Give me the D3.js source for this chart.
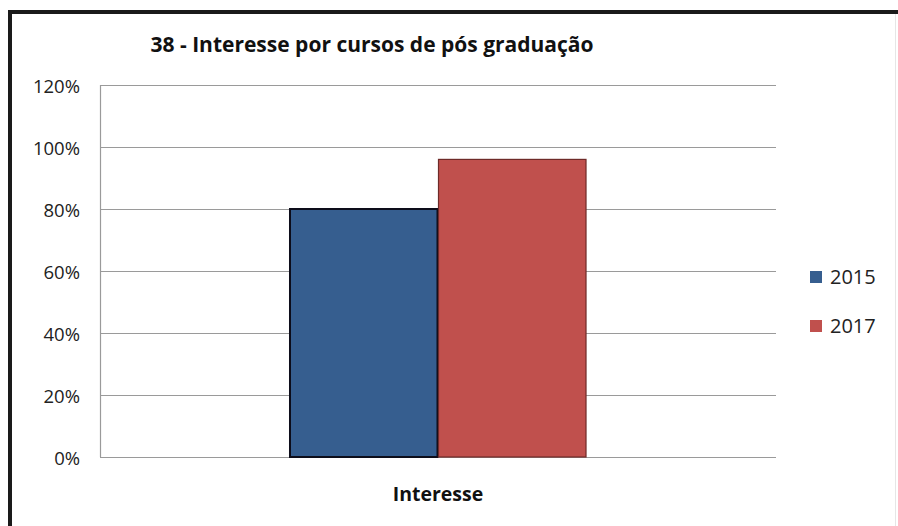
<!DOCTYPE html>
<html>
<head>
<meta charset="utf-8">
<script src="https://cdn.jsdelivr.net/npm/d3@7"></script>
<style>
  html, body { margin: 0; padding: 0; background: #fff; }
  svg { display: block; font-family: "Open Sans", Lato, "Liberation Sans", sans-serif; }
</style>
</head>
<body>
<svg id="chart" width="898" height="526"></svg>
<script>
// Chart data
const title = "38 - Interesse por cursos de pós graduação";
const categories = ["Interesse"];
const seriesNames = ["2015", "2017"];
const values2015 = [0.80];
const values2017 = [0.96];
const yTicks = [0, 0.2, 0.4, 0.6, 0.8, 1.0, 1.2];
const colors = ["#365e8f", "#c0504d"];
const strokes = ["#0d0d1a", "#6e2a28"];

const svg = d3.select("#chart");
const W = 898, H = 526;

// Outer frame
svg.append("rect").attr("x", 0).attr("y", 0).attr("width", W).attr("height", H).attr("fill", "#fff");
svg.append("line").attr("x1", 10).attr("x2", 898).attr("y1", 12).attr("y2", 12)
  .attr("stroke", "#1a1a1a").attr("stroke-width", 4);
svg.append("line").attr("x1", 10).attr("x2", 10).attr("y1", 10).attr("y2", 526)
  .attr("stroke", "#1a1a1a").attr("stroke-width", 4);
svg.append("line").attr("x1", 895.5).attr("x2", 895.5).attr("y1", 14).attr("y2", 526)
  .attr("stroke", "#e6e6e6").attr("stroke-width", 1);

const plot = { left: 100, right: 776, top: 85, bottom: 457 };

const x0 = d3.scaleBand().domain(categories).range([plot.left, plot.right]).paddingInner(0).paddingOuter(0.638);
const x1 = d3.scaleBand().domain(seriesNames).range([0, x0.bandwidth()]);
const y = d3.scaleLinear().domain([0, 1.2]).range([plot.bottom, plot.top]);

// Gridlines
svg.append("g").selectAll("line").data(yTicks).join("line")
  .attr("x1", plot.left).attr("x2", plot.right)
  .attr("y1", d => Math.round(y(d)) + 0.5).attr("y2", d => Math.round(y(d)) + 0.5)
  .attr("stroke", "#9a9a9a").attr("stroke-width", 1.2);

// Y axis line
svg.append("line").attr("x1", plot.left + 0.5).attr("x2", plot.left + 0.5)
  .attr("y1", plot.top).attr("y2", plot.bottom)
  .attr("stroke", "#9a9a9a").attr("stroke-width", 1.2);

// Y tick labels
const yAxis = d3.axisLeft(y).tickValues(yTicks).tickSize(0).tickPadding(20)
  .tickFormat(d => Math.round(d * 100) + "%");
const gy = svg.append("g").attr("transform", `translate(${plot.left},0)`).call(yAxis);
gy.select(".domain").remove();
gy.selectAll("text").attr("font-size", 18.5).attr("fill", "#222")
  .attr("font-family", "'Open Sans', sans-serif").attr("dy", "0.4em");

// Bars
const seriesValues = [values2015, values2017];
categories.forEach((cat, ci) => {
  seriesNames.forEach((s, si) => {
    const v = seriesValues[si][ci];
    svg.append("rect")
      .attr("x", x0(cat) + x1(s) + 0.5)
      .attr("y", y(v))
      .attr("width", x1.bandwidth() - 1)
      .attr("height", y(0) - y(v))
      .attr("fill", colors[si])
      .attr("stroke", strokes[si])
      .attr("stroke-width", si === 0 ? 2 : 1.2);
  });
});

// Category label
const xAxis = d3.axisBottom(x0).tickSize(0).tickPadding(30);
const gx = svg.append("g").attr("transform", `translate(0,${plot.bottom})`).call(xAxis);
gx.select(".domain").remove();
gx.selectAll("text").attr("font-size", 19.5).attr("font-weight", "bold").attr("fill", "#111")
  .attr("font-family", "'Open Sans', sans-serif");

// Title
svg.append("text").attr("x", 372).attr("y", 52).attr("text-anchor", "middle")
  .attr("font-size", 21).attr("font-weight", "bold").attr("fill", "#111").text(title);

// Legend
const legend = svg.append("g").selectAll("g").data(seriesNames).join("g")
  .attr("transform", (d, i) => `translate(810,${271 + i * 49})`);
legend.append("rect").attr("x", 0).attr("y", 0).attr("width", 12).attr("height", 12)
  .attr("fill", (d, i) => colors[i]);
legend.append("text").attr("x", 20).attr("y", 13).attr("font-size", 20).attr("fill", "#222")
  .text(d => d);
</script>
</body>
</html>
